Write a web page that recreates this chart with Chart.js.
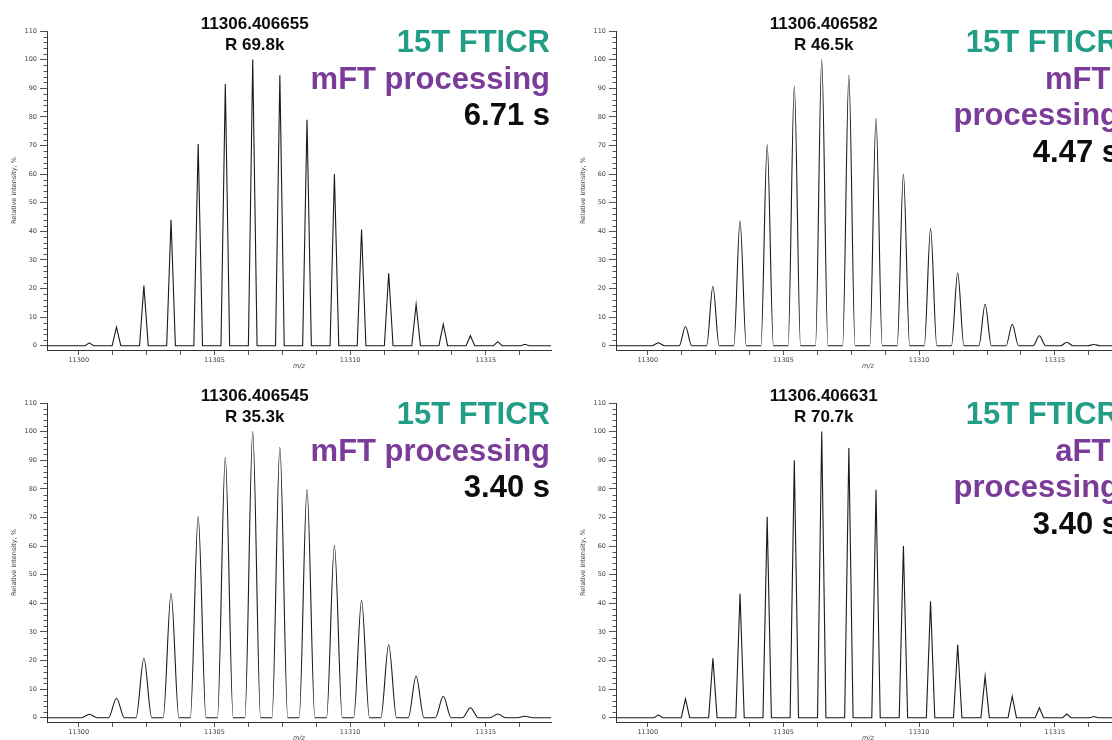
<!DOCTYPE html>
<html>
<head>
<meta charset="utf-8">
<title>15T FTICR isotope patterns</title>
<script src="https://cdn.jsdelivr.net/npm/chart.js@4.4.1/dist/chart.umd.min.js"></script>
<style>
  html, body { margin: 0; padding: 0; background: #fff; }
  body { width: 1112px; height: 740px; overflow: hidden; position: relative; }
  .panel { position: absolute; width: 556px; height: 370px; }
</style>
</head>
<body>
<div class="panel" style="left:0;top:0"><canvas id="panelTL"></canvas></div>
<div class="panel" style="left:569px;top:0"><canvas id="panelTR"></canvas></div>
<div class="panel" style="left:0;top:372px"><canvas id="panelBL"></canvas></div>
<div class="panel" style="left:569px;top:372px"><canvas id="panelBR"></canvas></div>

<script>
// ============================================
// DATA
// ============================================

// isotope peak centres, m/z
const peakMz = [11300.39, 11301.39, 11302.40, 11303.40, 11304.40, 11305.40, 11306.41, 11307.41,
                11308.41, 11309.42, 11310.42, 11311.42, 11312.43, 11313.43, 11314.43, 11315.44, 11316.44];

// relative intensity, % (one list per panel)
const heightsTL = [1.0, 6.5, 21.0, 44.0, 70.5, 91.5, 100, 94.5, 79.0, 60.0, 40.6, 25.3, 14.4, 7.5, 3.5, 1.4, 0.5];
const heightsTR = [1.0, 6.7, 20.8, 43.7, 70.3, 90.8, 100, 94.5, 79.5, 60.0, 41.0, 25.5, 14.5, 7.5, 3.5, 1.2, 0.4];
const heightsBL = [1.2, 6.8, 20.8, 43.5, 70.3, 91.0, 100, 94.5, 79.8, 60.2, 41.0, 25.5, 14.5, 7.5, 3.5, 1.3, 0.5];
const heightsBR = [1.0, 6.6, 20.8, 43.3, 70.2, 90.0, 100, 94.3, 79.7, 60.0, 40.7, 25.5, 14.5, 7.5, 3.5, 1.3, 0.4];

// half width of each peak at its base, m/z
const baseHalfWidthTL = 0.16;
const baseHalfWidthTR = 0.23;
const baseHalfWidthBL = 0.29;
const baseHalfWidthBR = 0.155;

// axes
const X_MIN = 11298.83;
const X_MAX = 11317.40;
const Y_MIN = -1.5;
const Y_MAX = 110;
const xTickValues = [11300, 11301.25, 11302.5, 11303.75, 11305, 11306.25, 11307.5, 11308.75,
                     11310, 11311.25, 11312.5, 11313.75, 11315, 11316.25];
const yTickValues = [0, 10, 20, 30, 40, 50, 60, 70, 80, 90, 100, 110];
const yMinorValues = [2, 4, 6, 8, 12, 14, 16, 18, 22, 24, 26, 28, 32, 34, 36, 38, 42, 44, 46, 48,
                      52, 54, 56, 58, 62, 64, 66, 68, 72, 74, 76, 78, 82, 84, 86, 88, 92, 94, 96, 98,
                      102, 104, 106, 108];

// labels
const apexMz = 11306.41;
const apexTextTL = ['11306.406655', 'R 69.8k'];
const apexTextTR = ['11306.406582', 'R 46.5k'];
const apexTextBL = ['11306.406545', 'R 35.3k'];
const apexTextBR = ['11306.406631', 'R 70.7k'];

const notesTL = ['15T FTICR', 'mFT processing', '6.71 s'];
const notesTR = ['15T FTICR', 'mFT ', 'processing', '4.47 s'];
const notesBL = ['15T FTICR', 'mFT processing', '3.40 s'];
const notesBR = ['15T FTICR', 'aFT ', 'processing', '3.40 s'];

// ============================================
// STYLE
// ============================================

const TEAL = '#229e87';
const PURPLE = '#7b3b98';
const INK = '#0d0d0d';
const AXIS = '#333';
const TICK_FONT = { family: 'DejaVu Sans', size: 6.5 };
const NOTE_FONT = 'bold 31px "Liberation Sans", Arial, sans-serif';
const APEX_FONT = 'bold 17px "Liberation Sans", Arial, sans-serif';

function noteColor(text, i) {
  if (i === 0) return TEAL;
  if (/\d/.test(text)) return INK;
  return PURPLE;
}

// peak profile: baseline - apex - baseline around each centre
function buildTrace(heights, halfWidth) {
  const pts = [{ x: X_MIN, y: 0 }];
  peakMz.forEach((mz, i) => {
    pts.push({ x: mz - halfWidth, y: 0 });
    pts.push({ x: mz, y: heights[i] });
    pts.push({ x: mz + halfWidth, y: 0 });
  });
  pts.push({ x: X_MAX, y: 0 });
  return pts;
}

// minor y ticks + peak label + notes
const panelText = {
  id: 'panelText',
  afterDraw(chart, args, opts) {
    const { ctx, chartArea, scales: { x, y } } = chart;
    ctx.save();

    ctx.strokeStyle = '#555';
    ctx.lineWidth = 1;
    ctx.beginPath();
    yMinorValues.forEach(v => {
      const py = Math.round(y.getPixelForValue(v)) + 0.5;
      ctx.moveTo(chartArea.left - 3.5, py);
      ctx.lineTo(chartArea.left, py);
    });
    ctx.stroke();

    ctx.font = APEX_FONT;
    ctx.fillStyle = INK;
    ctx.textAlign = 'center';
    ctx.textBaseline = 'alphabetic';
    const px = x.getPixelForValue(apexMz) + 2;
    ctx.fillText(opts.apex[0], px, 28.5);
    ctx.fillText(opts.apex[1], px, 49.5);

    ctx.font = NOTE_FONT;
    ctx.textAlign = 'right';
    opts.notes.forEach((text, i) => {
      ctx.fillStyle = noteColor(text, i);
      ctx.fillText(text, chartArea.right - 1, 52 + i * 36.7);
    });

    ctx.restore();
  }
};

// ============================================
// CHARTS
// ============================================

function makePanel(canvasId, heights, halfWidth, smooth, apex, notes) {
  const ctx = document.getElementById(canvasId).getContext('2d');
  return new Chart(ctx, {
    type: 'line',
    data: {
      datasets: [{
        data: buildTrace(heights, halfWidth),
        borderColor: '#1b1b1b',
        borderWidth: 1.1,
        pointRadius: 0,
        fill: false,
        tension: 0,
        cubicInterpolationMode: smooth ? 'monotone' : 'default'
      }]
    },
    options: {
      responsive: true,
      maintainAspectRatio: false,
      animation: false,
      layout: { padding: { left: 0, right: 5, top: 31, bottom: 0 } },
      plugins: {
        legend: { display: false },
        tooltip: { enabled: false },
        panelText: { apex: apex, notes: notes }
      },
      scales: {
        x: {
          type: 'linear',
          min: X_MIN,
          max: X_MAX,
          afterBuildTicks: s => { s.ticks = xTickValues.map(v => ({ value: v })); },
          afterFit: s => { s.height = 20; },
          ticks: {
            autoSkip: false,
            maxRotation: 0,
            padding: 1,
            font: TICK_FONT,
            color: '#444',
            callback: v => (v % 5 === 0 ? String(v) : '')
          },
          grid: { drawOnChartArea: false, tickLength: 5, tickColor: '#555' },
          border: { display: true, color: AXIS, width: 1 },
          title: {
            display: true,
            text: 'm/z',
            color: '#444',
            font: { family: 'DejaVu Sans', size: 6.5, style: 'italic' },
            padding: { top: 0, bottom: 0 }
          }
        },
        y: {
          min: Y_MIN,
          max: Y_MAX,
          afterBuildTicks: s => { s.ticks = yTickValues.map(v => ({ value: v })); },
          afterFit: s => { s.width = 47; },
          ticks: { padding: 3, font: TICK_FONT, color: '#444' },
          grid: { drawOnChartArea: false, tickLength: 7, tickColor: '#555' },
          border: { display: true, color: AXIS, width: 1 },
          title: {
            display: true,
            text: 'Relative intensity, %',
            color: '#444',
            font: TICK_FONT,
            padding: { top: 10, bottom: 0 }
          }
        }
      }
    },
    plugins: [panelText]
  });
}

document.addEventListener('DOMContentLoaded', () => {
  makePanel('panelTL', heightsTL, baseHalfWidthTL, false, apexTextTL, notesTL);
  makePanel('panelTR', heightsTR, baseHalfWidthTR, true, apexTextTR, notesTR);
  makePanel('panelBL', heightsBL, baseHalfWidthBL, true, apexTextBL, notesBL);
  makePanel('panelBR', heightsBR, baseHalfWidthBR, false, apexTextBR, notesBR);
});
</script>
</body>
</html>
